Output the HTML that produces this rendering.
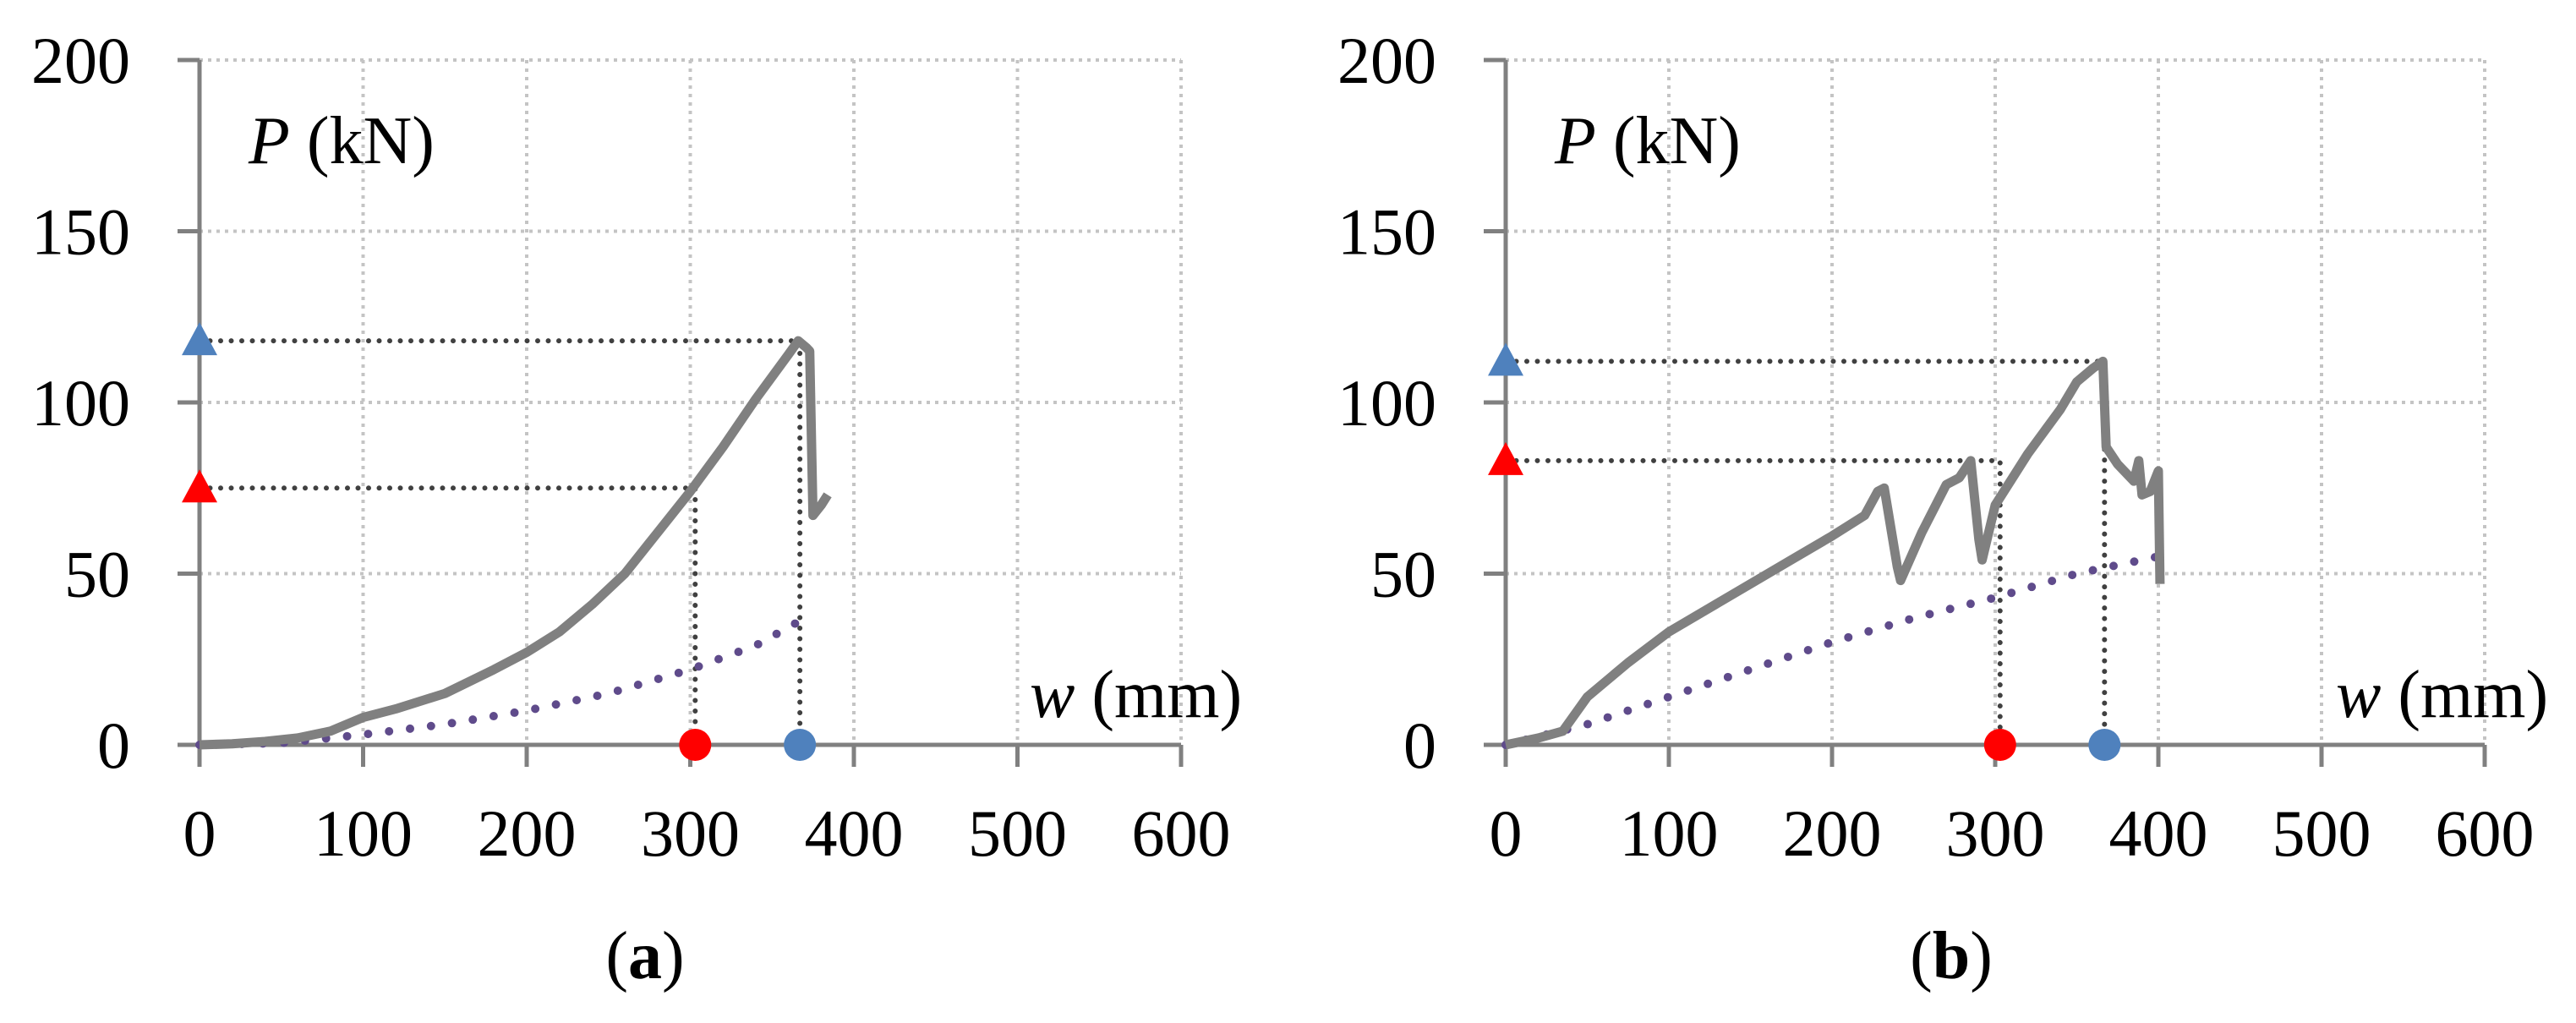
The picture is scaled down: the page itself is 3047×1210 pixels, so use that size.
<!DOCTYPE html>
<html><head><meta charset="utf-8">
<style>
html,body{margin:0;padding:0;background:#fff;}
svg{display:block;font-family:"Liberation Serif",serif;}
</style></head>
<body>
<svg id="chart" width="3047" height="1210" viewBox="0 0 3047 1210"></svg>
<script>
const xTicks = [0,100,200,300,400,500,600];
const yTicks = [0,50,100,150,200];
const aCurveW = [0,20,40,60,80,100,120,150,180,200,220,240,260,280,300,320,340,360,366,371,373,375,380,384];
const aCurveP = [0,0.3,1,2,4,8,10.5,15,22,27,33,41,50,62,74,87,101,114,118,116,115,67,70,73];
const aDotW = [0,50,100,150,200,250,300,340,370];
const aDotP = [0,0.5,3,6,10,15,22,29,37];
const aPeak = [367,118];
const aFirst = [303,75];
const bCurveW = [0,20,35,50,75,100,125,150,175,200,220,228,232,240,242,255,270,278,285,290,292,300,320,340,350,360,366,368,375,385,388,390,395,400,401];
const bCurveP = [0,2,4,14,24,33,40,47,54,61,67,74,75,52,48,62,76,78,83,60,54,70,85,98,106,110,112,87,82,77,83,73,74,80,47];
const bDotW = [0,50,100,150,200,250,300,350,400];
const bDotP = [0,6,14,22,30,37,43,50,55];
const bPeak = [367,112];
const bFirst = [303,83];

const NS="http://www.w3.org/2000/svg";
const svg=document.getElementById('chart');
function mk(tag,attrs,parent){const e=document.createElementNS(NS,tag);for(const k in attrs)e.setAttribute(k,attrs[k]);(parent||svg).appendChild(e);return e;}

function panel(x0,pxPer100,label,cw,cp,dw,dp,peak,first,nameP){
  const y0=881, pxPer50=202.5;
  const X=v=>x0+v*pxPer100/100;
  const Y=v=>y0-v*pxPer50/50;
  const g=mk('g',{});
  
  
  xTicks.forEach(t=>{ if(t===0) return;
    const l=mk('line',{x1:X(t),x2:X(t),y1:Y(200),y2:y0,stroke:'#c4c4c4','stroke-width':4,'stroke-dasharray':'4 6'},g);
    
    
  });
  yTicks.forEach(t=>{ if(t===0) return;
    const l=mk('line',{x1:X(0),x2:X(600),y1:Y(t),y2:Y(t),stroke:'#c4c4c4','stroke-width':4,'stroke-dasharray':'4 6'},g);
    
    
  });
  const ya=mk('line',{x1:X(0),x2:X(0),y1:Y(200),y2:y0+26,stroke:'#808080','stroke-width':5},g);
  
  
  const xa=mk('line',{x1:X(0)-26,x2:X(600),y1:y0,y2:y0,stroke:'#808080','stroke-width':5},g);
  
  
  xTicks.forEach(t=>{
    const tk=mk('line',{x1:X(t),x2:X(t),y1:y0,y2:y0+26,stroke:'#808080','stroke-width':5},g);
    
    
    const tx=mk('text',{x:X(t),y:1012,'text-anchor':'middle','font-size':78,fill:'#000'},g);
    tx.textContent=t;
    
    
  });
  yTicks.forEach(t=>{
    const tk=mk('line',{x1:X(0)-26,x2:X(0),y1:Y(t),y2:Y(t),stroke:'#808080','stroke-width':5},g);
    
    
    const tx=mk('text',{x:X(0)-82,y:Y(t)+27,'text-anchor':'end','font-size':78,fill:'#000'},g);
    tx.textContent=t;
    
    
  });
  const gl=(pts,nm)=>{const p=mk('polyline',{points:pts.map(q=>q.join(',')).join(' '),fill:'none',stroke:'#404040','stroke-width':6,'stroke-dasharray':'0 12.5','stroke-linecap':'round'},g);
    
    };
  gl([[X(0),Y(peak[1])],[X(peak[0]),Y(peak[1])],[X(peak[0]),y0]],'peak-guide-line');
  gl([[X(0),Y(first[1])],[X(first[0]),Y(first[1])],[X(first[0]),y0]],'first-crack-guide-line');
  const dl=mk('polyline',{points:dw.map((w,i)=>X(w)+','+Y(dp[i])).join(' '),fill:'none',stroke:'#5f4b8b','stroke-width':10,'stroke-dasharray':'0 25','stroke-linecap':'round'},g);
  
  
  const cl=mk('polyline',{points:cw.map((w,i)=>X(w)+','+Y(cp[i])).join(' '),fill:'none',stroke:'#808080','stroke-width':11,'stroke-linejoin':'round'},g);
  
  
  const tri=(v,c,nm)=>{const cx=X(0),cy=Y(v);
    const t=mk('polygon',{points:`${cx-21},${cy+17} ${cx+21},${cy+17} ${cx},${cy-22}`,fill:c},g);
    
    };
  tri(peak[1],'#4f81bd','peak-load-marker');
  tri(first[1],'#ff0000','first-crack-load-marker');
  const cir=(v,c,nm)=>{const e=mk('circle',{cx:X(v),cy:y0,r:19,fill:c},g);
    
    };
  cir(first[0],'#ff0000','first-crack-deflection-marker');
  cir(peak[0],'#4f81bd','peak-deflection-marker');
  const pt=mk('text',{x:X(0)+58,y:193,'font-size':80,fill:'#000'},g);
  pt.innerHTML='<tspan font-style="italic">P</tspan> (kN)';
  
  
  const wt=mk('text',{x:X(0)+982,y:848,'font-size':80,fill:'#000'},g);
  wt.innerHTML='<tspan font-style="italic">w</tspan> (mm)';
  
  
  const cap=mk('text',{x:X(0)+527,y:1157,'text-anchor':'middle','font-size':80,fill:'#000'},g);
  cap.innerHTML='(<tspan font-weight="bold">'+label+'</tspan>)';
  
  
}
panel(236,193.5,'a',aCurveW,aCurveP,aDotW,aDotP,aPeak,aFirst,'panel-a');
panel(1781,193,'b',bCurveW,bCurveP,bDotW,bDotP,bPeak,bFirst,'panel-b');
</script>
</body></html>
